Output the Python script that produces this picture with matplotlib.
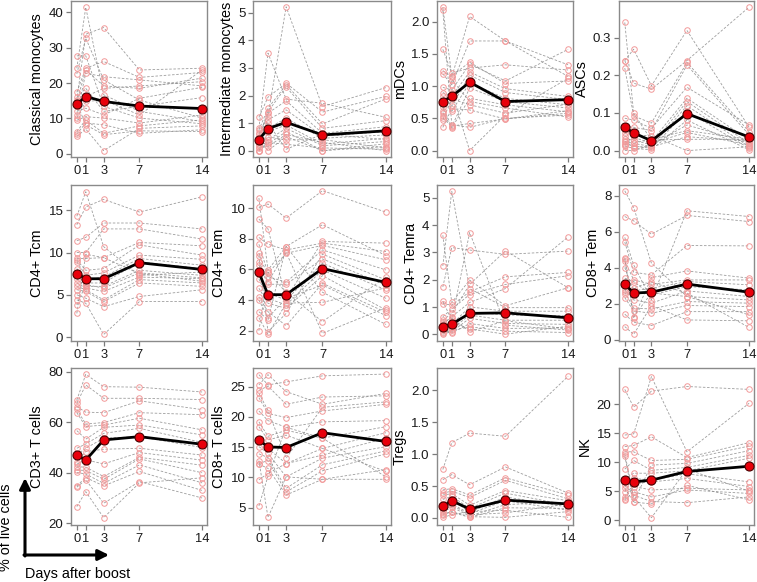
import matplotlib
matplotlib.use("Agg")
import matplotlib.pyplot as plt

plt.rcParams['font.family'] = ['Liberation Sans', 'DejaVu Sans']

# Days after boost
days = [0, 1, 3, 7, 14]

# ---------------- Datos (un renglon por sujeto) ----------------
classical_mono = [
    [24.2, 41.4, 16.7, 12.0, 9.1], [15.2, 33.8, 35.7, 23.7, 24.2],
    [22.6, 32.7, 20.9, 15.2, 10.1], [27.7, 27.7, 13.4, 10.1, 8.5],
    [17.4, 24.2, 26.1, 21.6, 23.0], [14.8, 23.7, 19.2, 18.5, 21.4],
    [11.0, 22.8, 21.8, 20.9, 19.2], [16.0, 18.5, 12.0, 13.4, 15.9],
    [13.5, 16.2, 18.5, 19.2, 20.4], [10.1, 14.8, 15.2, 11.0, 23.7],
    [12.0, 12.9, 11.0, 15.7, 18.8], [9.5, 10.5, 10.1, 8.7, 11.0],
    [6.3, 9.6, 5.8, 7.9, 9.6], [5.6, 8.7, 8.2, 5.8, 6.8],
    [4.9, 7.0, 0.9, 7.2, 7.9], [14.3, 8.2, 5.4, 6.5, 6.3]]
classical_mono_mean = [14.0, 16.2, 14.8, 13.5, 12.8]

intermediate_mono = [
    [0.81, 3.54, 1.87, 1.72, 1.21], [0.63, 1.26, 5.22, 1.60, 2.29],
    [1.21, 1.94, 2.45, 1.40, 1.97], [0.75, 1.54, 2.39, 0.97, 1.88],
    [0.51, 1.42, 2.31, 0.81, 1.09], [0.39, 1.36, 1.81, 0.63, 0.87],
    [0.24, 1.12, 1.48, 0.53, 0.69], [0.15, 0.81, 1.18, 0.45, 0.57],
    [0.00, 0.69, 0.93, 0.24, 0.45], [0.00, 0.39, 0.81, 0.18, 0.33],
    [0.30, 0.24, 0.69, 0.00, 0.15], [0.10, 0.15, 0.59, 0.30, 0.00],
    [0.45, 0.00, 0.51, 0.00, 0.25], [0.20, 0.50, 0.39, 0.40, 0.10],
    [0.00, 0.30, 0.23, 0.10, 0.05], [0.60, 1.00, 0.05, 0.60, 0.40]]
intermediate_mono_mean = [0.40, 0.80, 1.03, 0.57, 0.72]

mdcs = [
    [2.22, 1.16, 1.37, 1.04, 1.08], [2.18, 0.40, 0.36, 0.50, 0.55],
    [1.57, 1.20, 1.28, 1.33, 1.25], [1.24, 1.14, 2.08, 1.70, 1.15],
    [1.19, 1.02, 1.70, 1.70, 1.33], [0.98, 0.94, 1.34, 1.08, 1.57],
    [0.90, 0.84, 1.22, 0.96, 0.84], [0.84, 0.69, 1.17, 0.90, 0.79],
    [0.76, 0.61, 1.05, 0.81, 0.71], [0.68, 0.37, 0.97, 0.76, 0.66],
    [0.59, 0.35, 0.81, 0.71, 0.60], [0.54, 1.10, 0.76, 0.66, 0.52],
    [0.48, 0.80, 0.71, 0.58, 0.72], [0.36, 0.65, 0.63, 0.49, 0.62],
    [0.50, 0.38, 0.42, 0.49, 0.58], [0.62, 0.90, 0.00, 0.55, 1.12]]
mdcs_mean = [0.76, 0.84, 1.06, 0.76, 0.79]

ascs = [
    [0.340, 0.099, 0.028, 0.030, 0.030], [0.239, 0.269, 0.172, 0.319, 0.062],
    [0.239, 0.179, 0.163, 0.239, 0.381], [0.219, 0.092, 0.073, 0.234, 0.050],
    [0.086, 0.081, 0.059, 0.168, 0.068], [0.064, 0.062, 0.053, 0.227, 0.042],
    [0.048, 0.050, 0.024, 0.139, 0.028], [0.030, 0.028, 0.015, 0.130, 0.019],
    [0.024, 0.019, 0.011, 0.119, 0.011], [0.018, 0.012, 0.006, 0.104, 0.006],
    [0.012, 0.006, 0.002, 0.081, 0.002], [0.000, 0.000, 0.015, 0.068, 0.020],
    [0.040, 0.020, 0.030, 0.053, 0.030], [0.015, 0.035, 0.020, 0.048, 0.015],
    [0.025, 0.010, 0.010, 0.037, 0.025], [0.055, 0.040, 0.040, 0.000, 0.010]]
ascs_mean = [0.062, 0.047, 0.026, 0.098, 0.036]

cd4_tcm = [
    [14.3, 17.2, 10.7, 7.3, 7.7], [13.3, 15.4, 16.3, 14.8, 16.6],
    [11.4, 11.8, 13.5, 13.5, 12.8], [10.0, 10.0, 12.8, 12.8, 11.6],
    [9.3, 9.3, 9.4, 11.2, 10.8], [9.1, 7.9, 8.1, 10.9, 9.7],
    [8.9, 7.3, 7.6, 9.7, 9.2], [8.1, 6.8, 7.1, 9.3, 8.5],
    [7.3, 6.4, 6.4, 8.9, 8.1], [6.9, 6.0, 6.0, 7.9, 7.3],
    [6.4, 5.8, 5.4, 7.1, 6.9], [6.0, 5.6, 4.4, 6.8, 6.4],
    [5.6, 5.4, 4.2, 6.4, 6.0], [5.0, 4.6, 3.6, 4.8, 5.6],
    [4.4, 4.0, 0.3, 4.2, 4.2], [3.8, 6.2, 5.8, 7.6, 7.0],
    [2.8, 9.8, 9.4, 7.5, 6.6]]
cd4_tcm_mean = [7.5, 6.9, 6.9, 8.8, 8.0]

cd4_tem = [
    [10.65, 5.96, 7.49, 8.91, 6.90], [10.04, 10.26, 9.34, 11.13, 9.73],
    [9.28, 8.64, 4.11, 7.82, 7.71], [8.08, 7.64, 7.27, 7.71, 7.16],
    [7.64, 5.75, 7.05, 7.56, 6.62], [7.05, 5.53, 5.16, 7.27, 5.96],
    [6.90, 1.93, 3.13, 6.99, 5.31], [6.29, 5.03, 5.03, 6.68, 4.98],
    [5.75, 4.44, 4.00, 6.40, 4.66], [5.38, 4.11, 3.68, 5.96, 4.11],
    [4.77, 3.79, 3.46, 5.59, 3.35], [4.22, 3.24, 2.33, 5.09, 3.20],
    [4.00, 2.85, 4.11, 4.98, 2.98], [3.24, 2.70, 7.49, 4.51, 2.41],
    [2.85, 1.76, 3.80, 3.85, 4.80], [2.00, 5.80, 4.50, 2.59, 5.50],
    [6.50, 5.20, 7.10, 1.83, 3.50]]
cd4_tem_mean = [5.8, 4.35, 4.35, 6.05, 5.15]

cd4_temra = [
    [3.63, 1.17, 1.99, 1.05, 1.71], [2.51, 5.24, 1.68, 0.98, 0.98],
    [1.74, 3.18, 3.09, 2.93, 3.05], [1.22, 0.52, 3.73, 0.34, 0.16],
    [1.13, 1.07, 1.56, 2.11, 2.27], [0.65, 0.93, 1.46, 1.83, 2.15],
    [0.52, 0.77, 1.83, 3.06, 1.71], [0.37, 0.65, 1.17, 1.68, 3.57],
    [0.28, 0.37, 1.01, 0.85, 0.85], [0.20, 0.28, 0.83, 0.71, 0.68],
    [0.10, 0.20, 0.71, 0.52, 0.52], [0.01, 0.10, 0.59, 0.40, 0.37],
    [0.15, 0.05, 0.40, 0.22, 0.24], [0.05, 0.15, 0.28, 0.12, 0.07],
    [0.30, 0.45, 0.20, 0.01, 0.30], [0.45, 0.60, 0.10, 0.50, 0.20]]
cd4_temra_mean = [0.28, 0.38, 0.77, 0.79, 0.61]

cd8_tem = [
    [8.28, 7.35, 4.26, 2.41, 2.22], [6.85, 6.61, 5.87, 6.91, 6.57],
    [5.69, 4.17, 2.22, 7.17, 6.85], [5.43, 3.76, 3.61, 5.24, 5.22],
    [4.57, 1.20, 3.46, 3.83, 3.43], [4.39, 3.33, 3.09, 3.33, 3.33],
    [4.02, 2.72, 2.87, 3.24, 3.06], [3.43, 3.24, 2.50, 2.96, 2.78],
    [2.78, 2.22, 2.04, 2.72, 2.41], [2.65, 1.76, 1.72, 2.13, 2.04],
    [2.35, 1.61, 1.48, 1.91, 1.85], [1.43, 0.98, 0.80, 1.57, 1.57],
    [0.74, 0.31, 1.90, 1.11, 1.06], [4.50, 1.30, 2.60, 2.41, 1.39],
    [2.55, 2.90, 3.20, 2.60, 0.69]]
cd8_tem_mean = [3.1, 2.6, 2.65, 3.1, 2.65]

cd3_t = [
    [68.8, 79.0, 74.1, 73.9, 72.0], [67.5, 74.8, 69.5, 69.5, 69.0],
    [66.2, 64.0, 63.8, 68.5, 65.0], [65.1, 59.3, 59.9, 63.8, 63.0],
    [63.8, 58.3, 58.9, 61.6, 57.0], [56.7, 53.3, 58.0, 58.9, 55.0],
    [49.7, 51.4, 55.6, 57.6, 52.0], [47.1, 49.7, 53.7, 54.3, 50.0],
    [44.4, 48.4, 49.3, 49.7, 47.0], [43.4, 45.1, 43.5, 48.0, 45.0],
    [42.4, 42.2, 38.5, 46.1, 43.0], [41.1, 40.9, 37.4, 45.5, 40.0],
    [40.1, 39.5, 35.8, 43.1, 36.0], [34.8, 38.1, 34.8, 40.5, 33.0],
    [34.3, 37.2, 27.9, 36.5, 30.0], [26.6, 32.5, 22.2, 36.0, 38.0]]
cd3_t_mean = [47.0, 45.0, 53.0, 54.3, 51.3]

cd8_t = [
    [27.0, 25.3, 25.8, 26.8, 27.1], [25.3, 27.0, 24.2, 22.1, 23.9],
    [24.4, 25.1, 22.1, 23.3, 23.5], [23.9, 21.1, 13.2, 21.6, 22.5],
    [23.2, 20.6, 19.9, 21.0, 22.1], [21.0, 19.4, 18.3, 19.2, 19.4],
    [19.2, 16.8, 17.8, 16.5, 18.4], [18.4, 16.2, 17.0, 14.8, 17.4],
    [16.2, 14.8, 12.3, 13.7, 16.5], [15.1, 14.0, 10.1, 13.2, 15.1],
    [13.9, 13.3, 8.2, 12.1, 14.4], [12.3, 12.8, 7.6, 11.1, 13.9],
    [12.2, 11.5, 7.1, 9.7, 11.3], [9.6, 10.7, 12.3, 14.8, 11.0],
    [5.3, 10.2, 18.3, 16.5, 10.1], [12.8, 3.4, 10.1, 9.7, 9.7]]
cd8_t_mean = [16.2, 15.05, 14.95, 17.4, 15.95]

tregs = [
    [0.76, 1.18, 1.33, 1.28, 2.22], [0.60, 0.68, 0.52, 0.80, 0.39],
    [0.44, 0.46, 0.36, 0.63, 0.36], [0.39, 0.42, 0.32, 0.59, 0.30],
    [0.36, 0.38, 0.20, 0.43, 0.27], [0.29, 0.34, 0.15, 0.39, 0.20],
    [0.22, 0.29, 0.09, 0.33, 0.17], [0.16, 0.22, 0.07, 0.27, 0.12],
    [0.09, 0.17, 0.03, 0.21, 0.25], [0.07, 0.09, 0.01, 0.16, 0.15],
    [0.01, 0.05, 0.10, 0.12, 0.01], [0.12, 0.20, 0.05, 0.08, 0.22],
    [0.05, 0.10, 0.02, 0.01, 0.10]]
tregs_mean = [0.18, 0.27, 0.14, 0.28, 0.22]

nk = [
    [22.6, 19.5, 22.3, 23.1, 22.6], [14.7, 14.9, 24.8, 11.8, 20.2],
    [12.7, 12.9, 14.4, 10.8, 13.4], [11.8, 11.8, 10.3, 10.5, 12.8],
    [11.1, 3.2, 9.5, 9.8, 12.0], [8.8, 10.3, 8.6, 9.1, 11.2],
    [7.0, 8.1, 8.1, 8.5, 10.7], [4.9, 7.2, 6.9, 8.0, 6.6],
    [4.0, 6.3, 6.6, 7.2, 5.8], [3.7, 5.8, 5.2, 5.5, 5.2],
    [3.5, 4.9, 4.0, 5.2, 4.6], [6.0, 4.3, 3.2, 3.0, 4.0],
    [5.5, 3.1, 2.8, 6.0, 3.5], [11.5, 4.0, 0.4, 8.8, 5.0]]
nk_mean = [6.9, 6.6, 6.9, 8.4, 9.3]

labels = ["Classical monocytes", "Intermediate monocytes", "mDCs", "ASCs",
          "CD4+ Tcm", "CD4+ Tem", "CD4+ Temra", "CD8+ Tem",
          "CD3+ T cells", "CD8+ T cells", "Tregs", "NK"]
subjects = [classical_mono, intermediate_mono, mdcs, ascs,
            cd4_tcm, cd4_tem, cd4_temra, cd8_tem,
            cd3_t, cd8_t, tregs, nk]
means = [classical_mono_mean, intermediate_mono_mean, mdcs_mean, ascs_mean,
         cd4_tcm_mean, cd4_tem_mean, cd4_temra_mean, cd8_tem_mean,
         cd3_t_mean, cd8_t_mean, tregs_mean, nk_mean]
yticks = [[0, 10, 20, 30, 40], [0, 1, 2, 3, 4, 5], [0, 0.5, 1.0, 1.5, 2.0],
          [0, 0.1, 0.2, 0.3],
          [0, 5, 10, 15], [2, 4, 6, 8, 10], [0, 1, 2, 3, 4, 5], [0, 2, 4, 6, 8],
          [20, 40, 60, 80], [5, 10, 15, 20, 25], [0, 0.5, 1.0, 1.5, 2.0],
          [0, 5, 10, 15, 20]]
ytick_fmt = ["%d", "%d", "%.1f", "%.1f", "%d", "%d", "%d", "%d",
             "%d", "%d", "%.1f", "%d"]
ylims = [(-0.9, 43.2), (-0.23, 5.43), (-0.1, 2.32), (-0.017, 0.397),
         (-0.47, 18.0), (1.33, 11.5), (-0.24, 5.47), (-0.06, 8.6),
         (19.3, 81.5), (2.14, 28.1), (-0.11, 2.35), (-0.86, 26.3)]

# posiciones de los paneles en pixeles
W, H = 757, 582
cols = [(71, 207), (253, 391), (437, 573), (619, 754)]
rows = [(1, 157), (185, 341), (368, 525)]

fig = plt.figure(figsize=(W / 100, H / 100), dpi=100)

for i in range(12):
    r, c = divmod(i, 4)
    x0, x1 = cols[c]
    y0, y1 = rows[r]
    ax = fig.add_axes([x0 / W, 1 - y1 / H, (x1 - x0) / W, (y1 - y0) / H])
    for s in subjects[i]:
        ax.plot(days, s, color="#8c8c8c", lw=0.6, ls=(0, (3, 2)),
                alpha=0.85, zorder=1)
        ax.plot(days, s, "o", ms=4, mfc="none", mec="#f29a9a",
                mew=0.7, zorder=2)
    ax.plot(days, means[i], "-", color="black", lw=2, zorder=3)
    ax.plot(days, means[i], "o", ms=6.5, mfc="#e8000b", mec="#4a0000",
            mew=0.8, zorder=4)
    ax.set_xlim(-0.65, 14.55)
    ax.set_ylim(*ylims[i])
    ax.set_xticks(days)
    ax.set_yticks(yticks[i])
    ax.set_yticklabels([ytick_fmt[i] % v for v in yticks[i]])
    ax.set_ylabel(labels[i], fontsize=10.4, labelpad=3)
    for sp in ax.spines.values():
        sp.set_color("#8a8a8a")
        sp.set_linewidth(1.0)
    ax.tick_params(direction="out", length=3.5, width=0.9, color="#7a7a7a",
                   labelsize=9.5, labelcolor="#1a1a1a", pad=2)
    ax.tick_params(axis="x", labelsize=9.3)

# flechas de los ejes comunes
ax_arrow = dict(arrowstyle="-|>", lw=2.2, color="black", mutation_scale=16,
                shrinkA=0, shrinkB=0)
fig.add_artist(plt.Annotation("", xy=(25 / W, 1 - 478 / H),
                              xytext=(25 / W, 1 - 556 / H),
                              xycoords="figure fraction",
                              arrowprops=ax_arrow))
fig.add_artist(plt.Annotation("", xy=(109 / W, 1 - 555 / H),
                              xytext=(24 / W, 1 - 555 / H),
                              xycoords="figure fraction",
                              arrowprops=ax_arrow))
fig.text(6 / W, 1 - 527 / H, "% of live cells", rotation=90,
         ha="center", va="center", fontsize=10.4)
fig.text(78 / W, 1 - 574 / H, "Days after boost",
         ha="center", va="center", fontsize=10.4)

plt.savefig("out.png", dpi=100)
